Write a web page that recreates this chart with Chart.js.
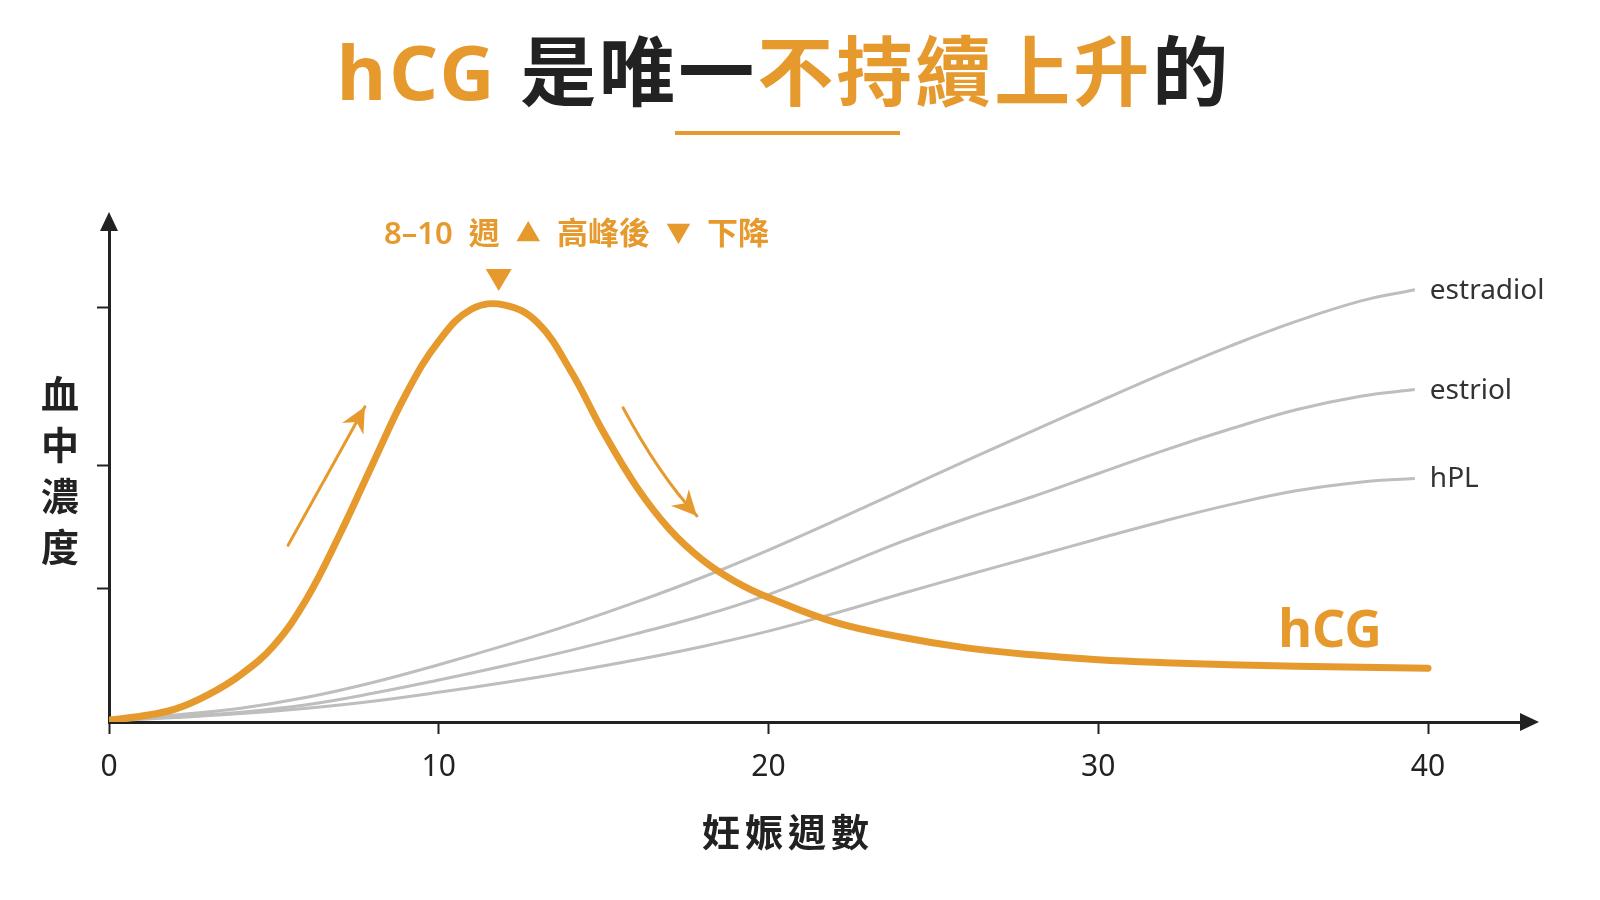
<!DOCTYPE html>
<html lang="zh-Hant">
<head>
<meta charset="UTF-8">
<title>hCG 是唯一不持續上升的</title>
<script src="https://cdn.jsdelivr.net/npm/chart.js@4.4.1/dist/chart.umd.min.js"></script>
<style>
  body { margin: 0; background: #fff; }
  #wrap { position: relative; width: 1600px; height: 900px; overflow: hidden; font-family: "Noto Sans", "Noto Sans CJK TC", sans-serif; }
  #chart { position: absolute; left: 0; top: 0; }
  .overlay { position: absolute; white-space: nowrap; line-height: 1; }
  #title { left: 0; width: 1568px; top: 33px; text-align: center; font-size: 76px; font-weight: 700; color: #222; letter-spacing: 3px; }
  .hl { color: #E69A2E; }
  #title-rule { left: 675px; top: 131px; width: 225px; height: 4px; background: #E69A2E; }
  #peak-note { left: 384px; top: 217px; font-size: 31px; font-weight: 600; color: #E69A2E; word-spacing: 8px; }
  #peak-note .tri { font-size: 25px; vertical-align: 2px; }
  #x-title { left: 700px; width: 176px; text-align: center; top: 812px; font-size: 38px; font-weight: 700; color: #222; letter-spacing: 5px; }
  #y-title { left: 20px; width: 80px; top: 368px; text-align: center; font-size: 38px; font-weight: 700; color: #222; line-height: 51px; white-space: normal; }
</style>
</head>
<body>
<div id="wrap">
  <canvas id="chart" width="1600" height="900"></canvas>
  <div class="overlay" id="title"><span class="hl">hCG</span> 是唯一<span class="hl">不持續上升</span>的</div>
  <div class="overlay" id="title-rule"></div>
  <div class="overlay" id="peak-note">8–10 週 <span class="tri">▲</span> 高峰後 <span class="tri">▼</span> 下降</div>
  <div class="overlay" id="x-title">妊娠週數</div>
  <div class="overlay" id="y-title">血<br>中<br>濃<br>度</div>
</div>
<script>
// Weeks of gestation and relative blood levels
const weeks = [0, 1, 2, 3, 4, 5, 6, 7, 8, 9, 10, 11, 12, 13, 14, 15, 16, 17, 18, 19, 20, 22, 24, 26, 28, 30, 32, 34, 36, 38, 40];
const hcgLevels = [0.4, 1.2, 2.6, 5.5, 9.6, 15.5, 25.0, 38.0, 52.3, 66.3, 77.1, 83.6, 84.4, 80.8, 71.1, 58.6, 47.6, 39.0, 32.8, 28.4, 25.2, 20.2, 17.2, 15.0, 13.6, 12.6, 12.0, 11.6, 11.3, 11.1, 10.9];

const hormoneWeeks = [0, 2, 4, 6, 8, 10, 12, 14, 16, 18, 20, 22, 24, 26, 28, 30, 32, 34, 36, 38, 39.6];
const estradiolLevels = [0.2, 1.4, 2.8, 5.0, 8.0, 11.6, 15.5, 19.7, 24.3, 29.3, 34.8, 40.7, 46.8, 52.9, 58.9, 64.8, 70.6, 76.1, 81.1, 85.3, 87.5];
const estriolLevels = [0.2, 1.1, 2.0, 3.5, 5.8, 8.5, 11.4, 14.5, 17.9, 21.5, 25.8, 31.0, 36.4, 41.2, 45.6, 50.3, 55.0, 59.3, 63.2, 66.0, 67.3];
const hplLevels = [0.2, 0.9, 1.7, 2.8, 4.2, 6.0, 8.0, 10.2, 12.6, 15.3, 18.4, 22.0, 25.9, 29.7, 33.4, 37.1, 40.7, 44.0, 46.8, 48.6, 49.3];

const xTickWeeks = [0, 10, 20, 30, 40];
const yTickLevels = [27, 52, 84];

const ORANGE = '#E69A2E';
const GREY = '#BEBEBE';
const INK = '#222';

const toPoints = (xs, ys) => xs.map((x, i) => ({ x, y: ys[i] }));

// Arrow heads at the ends of both axes
const axisArrows = {
    id: 'axisArrows',
    afterDraw(chart) {
        const { ctx, chartArea: a } = chart;
        ctx.save();
        ctx.fillStyle = INK;
        ctx.beginPath();
        ctx.moveTo(a.right + 17, a.bottom);
        ctx.lineTo(a.right - 2, a.bottom - 9);
        ctx.lineTo(a.right - 2, a.bottom + 9);
        ctx.closePath();
        ctx.fill();
        ctx.beginPath();
        ctx.moveTo(a.left, a.top - 16);
        ctx.lineTo(a.left - 9, a.top + 3);
        ctx.lineTo(a.left + 9, a.top + 3);
        ctx.closePath();
        ctx.fill();
        ctx.restore();
    }
};

// Thin curved arrows beside the rise and the fall
const trendArrows = {
    id: 'trendArrows',
    afterDatasetsDraw(chart, args, opts) {
        const { ctx, scales: { x, y } } = chart;
        const px = p => [x.getPixelForValue(p[0]), y.getPixelForValue(p[1])];
        ctx.save();
        ctx.strokeStyle = ORANGE;
        ctx.fillStyle = ORANGE;
        ctx.lineWidth = 3;
        ctx.lineCap = 'round';
        opts.arrows.forEach(arrow => {
            const p0 = px(arrow.from), c = px(arrow.via), p1 = px(arrow.to);
            ctx.beginPath();
            ctx.moveTo(p0[0], p0[1]);
            ctx.quadraticCurveTo(c[0], c[1], p1[0], p1[1]);
            ctx.stroke();

            const ang = Math.atan2(p1[1] - c[1], p1[0] - c[0]);
            const len = 28, spread = 0.45;
            ctx.beginPath();
            ctx.moveTo(p1[0], p1[1]);
            ctx.lineTo(p1[0] - len * Math.cos(ang - spread), p1[1] - len * Math.sin(ang - spread));
            ctx.lineTo(p1[0] - len * 0.62 * Math.cos(ang), p1[1] - len * 0.62 * Math.sin(ang));
            ctx.lineTo(p1[0] - len * Math.cos(ang + spread), p1[1] - len * Math.sin(ang + spread));
            ctx.closePath();
            ctx.fill();
        });
        ctx.restore();
    }
};

// Line-end labels and the marker over the hCG peak
const seriesLabels = {
    id: 'seriesLabels',
    afterDatasetsDraw(chart) {
        const { ctx } = chart;
        ctx.save();
        chart.data.datasets.forEach((ds, i) => {
            const pts = chart.getDatasetMeta(i).data;
            const end = pts[pts.length - 1];
            if (ds.label === 'hCG') {
                ctx.font = '700 52px "Noto Sans", sans-serif';
                ctx.fillStyle = ORANGE;
                ctx.textAlign = 'right';
                ctx.textBaseline = 'alphabetic';
                ctx.fillText(ds.label, end.x - 46, end.y - 21);

                const peakIdx = hcgLevels.indexOf(Math.max(...hcgLevels));
                const peak = pts[peakIdx];
                const tipX = peak.x - 6;
                ctx.beginPath();
                ctx.moveTo(tipX, peak.y - 14);
                ctx.lineTo(tipX - 13, peak.y - 36);
                ctx.lineTo(tipX + 13, peak.y - 36);
                ctx.closePath();
                ctx.fill();
            } else {
                ctx.font = '28px "Noto Sans", sans-serif';
                ctx.fillStyle = '#333';
                ctx.textAlign = 'left';
                ctx.textBaseline = 'alphabetic';
                ctx.fillText(ds.label, end.x + 15, end.y + 9);
            }
        });
        ctx.restore();
    }
};

const greyLine = (label, xs, ys) => ({
    label,
    data: toPoints(xs, ys),
    borderColor: GREY,
    borderWidth: 3,
    pointRadius: 0,
    tension: 0.4,
    fill: false
});

new Chart(document.getElementById('chart'), {
    type: 'line',
    data: {
        datasets: [
            {
                label: 'hCG',
                data: toPoints(weeks, hcgLevels),
                borderColor: ORANGE,
                borderWidth: 7,
                borderCapStyle: 'round',
                pointRadius: 0,
                tension: 0.4,
                fill: false
            },
            greyLine('estradiol', hormoneWeeks, estradiolLevels),
            greyLine('estriol', hormoneWeeks, estriolLevels),
            greyLine('hPL', hormoneWeeks, hplLevels)
        ]
    },
    options: {
        responsive: false,
        animation: false,
        events: [],
        layout: { padding: { left: 89, right: 78, top: 228, bottom: 78 } },
        plugins: {
            legend: { display: false },
            tooltip: { enabled: false },
            trendArrows: {
                arrows: [
                    { from: [5.43, 35.8], via: [6.64, 50.2], to: [7.76, 63.8] },
                    { from: [15.59, 63.6], via: [16.68, 50.0], to: [17.83, 41.7] }
                ]
            }
        },
        scales: {
            x: {
                type: 'linear',
                min: 0,
                max: 42.85,
                afterBuildTicks: s => { s.ticks = xTickWeeks.map(v => ({ value: v })); },
                afterFit: s => { s.height = 100; },
                grid: { drawOnChartArea: false, drawTicks: true, tickLength: 12, tickColor: INK, tickWidth: 2 },
                border: { display: true, color: INK, width: 3 },
                ticks: {
                    autoSkip: false,
                    maxRotation: 0,
                    padding: 15,
                    color: INK,
                    font: { family: '"Noto Sans", sans-serif', size: 30 }
                }
            },
            y: {
                type: 'linear',
                min: 0,
                max: 100,
                afterBuildTicks: s => { s.ticks = yTickLevels.map(v => ({ value: v })); },
                afterFit: s => { s.width = 20; },
                grid: { drawOnChartArea: false, drawTicks: true, tickLength: 12, tickColor: INK, tickWidth: 2 },
                border: { display: true, color: INK, width: 3 },
                ticks: { display: false }
            }
        }
    },
    plugins: [axisArrows, trendArrows, seriesLabels]
});
</script>
</body>
</html>
